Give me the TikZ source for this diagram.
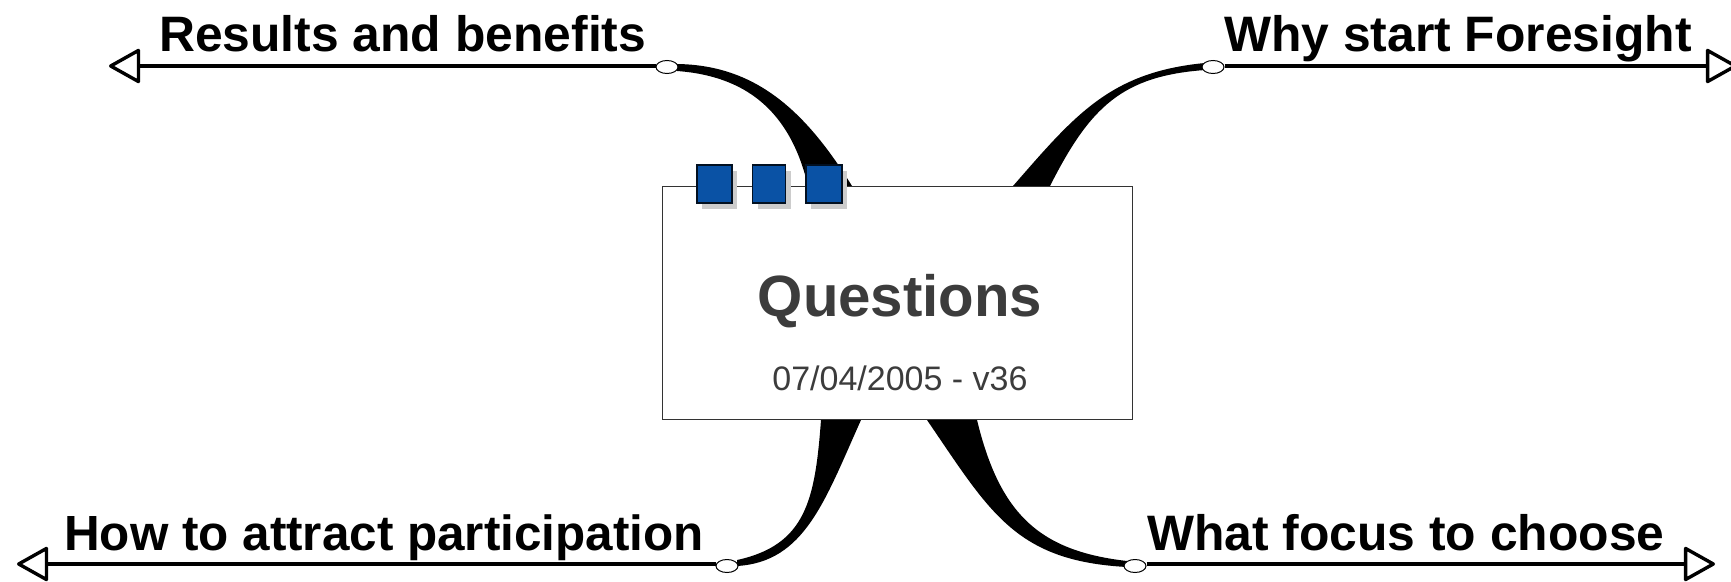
\documentclass[tikz,border=0pt]{standalone}
\usepackage{fontspec}
\setmainfont{Liberation Sans}
\usetikzlibrary{shapes.geometric,arrows.meta}
\definecolor{tagblue}{HTML}{0A52A5}
\definecolor{titlegrey}{HTML}{3C3C3C}
\tikzset{
  x=1pt,y=-1pt,
  branchlabel/.style={anchor=base west,inner sep=0pt,font=\fontsize{49.8}{52}\selectfont\bfseries,text=black},
  knob/.style={ellipse,draw=black,fill=white,line width=1pt,minimum width=22pt,minimum height=13pt,inner sep=0pt},
  arm/.style={draw=black,line width=3.4pt,-{Triangle[open,length=33pt,width=36pt,line width=3.4pt,round]}},
  taper/.style={fill=black,draw=none},
  tagbox/.style={rectangle,draw=black!80!tagblue,line width=1.2pt,fill=tagblue,inner sep=0pt,minimum height=38pt},
  tagshade/.style={rectangle,fill=black!20,draw=none,inner sep=0pt,minimum height=38pt},
}
\begin{document}
\begin{tikzpicture}
\useasboundingbox (0,0) rectangle (1731,581);
\fill[white] (0,0) rectangle (1731,581);
% tapered branches
\fill[taper] (677,64) .. controls (755,65) and (805,110) .. (852,186) -- (808,186) .. controls (790,110) and (745,76) .. (677,71) -- cycle;
\fill[taper] (1013,186) .. controls (1075,115) and (1110,72) .. (1205,63) -- (1205,70) .. controls (1122,76) and (1090,107) .. (1050,186) -- cycle;
\fill[taper] (821,420) .. controls (815,500) and (806,545) .. (737,560) -- (737,566) .. controls (805,562) and (825,500) .. (861,420) -- cycle;
\fill[taper] (927,420) .. controls (990,512) and (1015,561) .. (1127,567) -- (1127,561) .. controls (1040,551) and (1000,515) .. (977,420) -- cycle;
% central box
\node[rectangle,draw=black!80,line width=1.4pt,fill=white,minimum width=470.5pt,minimum height=233.5pt,inner sep=0pt,anchor=north west] (main) at (661.5,185.5) {};
\node[inner sep=0pt,anchor=base,font=\fontsize{58.2}{60}\selectfont\bfseries,text=titlegrey] (title) at (900,316) {Questions};
\node[inner sep=0pt,anchor=base,font=\fontsize{34}{36}\selectfont,text=titlegrey] (date) at (900,390) {07/04/2005 - v36};
% tags
\node[tagshade,minimum width=35pt] (shA) at (719,190) {};
\node[tagshade,minimum width=33pt] (shB) at (774,190) {};
\node[tagshade,minimum width=36pt] (shC) at (828.5,190) {};
\node[tagbox,minimum width=35pt] (tagA) at (714.5,184) {};
\node[tagbox,minimum width=33pt] (tagB) at (769,184) {};
\node[tagbox,minimum width=36pt] (tagC) at (824,184) {};
% knobs
\node[knob] (kTL) at (667,67) {};
\node[knob] (kTR) at (1213,67) {};
\node[knob] (kBL) at (727,566) {};
\node[knob] (kBR) at (1135,566) {};
% arm ends
\coordinate (eTL) at (109,66);
\coordinate (eTR) at (1737,66);
\coordinate (eBL) at (17,564);
\coordinate (eBR) at (1715,564);
\draw[arm] (kTL.west |- eTL) -- (eTL);
\draw[arm] (kTR.east |- eTR) -- (eTR);
\draw[arm] (kBL.west |- eBL) -- (eBL);
\draw[arm] (kBR.east |- eBR) -- (eBR);
% labels
\node[branchlabel] (lTL) at (159,51) {Results and benefits};
\node[branchlabel] (lTR) at (1224,51) {Why start Foresight};
\node[branchlabel,font=\fontsize{49.4}{52}\selectfont\bfseries] (lBL) at (64,550) {How to attract participation};
\node[branchlabel] (lBR) at (1147,550) {What focus to choose};
\end{tikzpicture}
\end{document}
